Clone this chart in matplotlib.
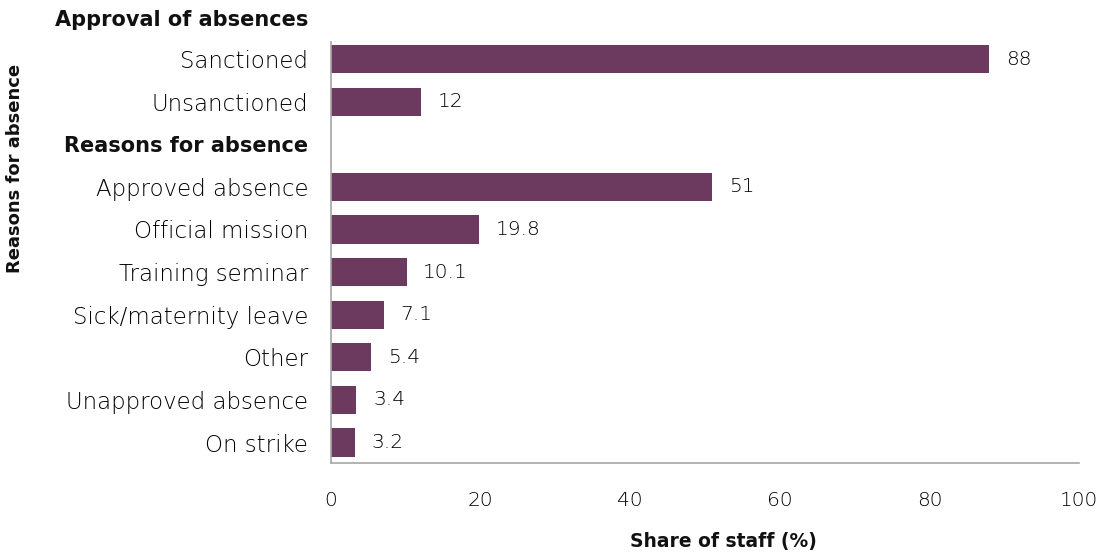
import matplotlib.pyplot as plt
import numpy as np

categories = ["Sanctioned", "Unsanctioned", "Reasons for absence",
              "Approved absence", "Official mission", "Training seminar",
              "Sick/maternity leave", "Other", "Unapproved absence", "On strike"]
values = [88, 12, None, 51, 19.8, 10.1, 7.1, 5.4, 3.4, 3.2]
labels = ["88", "12", "", "51", "19.8", "10.1", "7.1", "5.4", "3.4", "3.2"]
headers = ["Approval of absences", "Reasons for absence"]

plt.rcParams['font.family'] = ['DejaVu Sans']
bar_color = "#6B3A5E"
txt = "#000000"
dark = "#111111"
fs_cat = 16.5
fs_num = 14.5
fs_head = 15

fig = plt.figure(figsize=(11.02, 5.52), dpi=100)
ax = fig.add_axes([331 / 1102, 1 - 463 / 552, 748 / 1102, 421 / 552])

y = np.arange(len(categories))
for i, (v, lab) in enumerate(zip(values, labels)):
    if v is None:
        continue
    ax.barh(i, v, height=0.66, color=bar_color)
    ax.annotate(lab, (v, i), xytext=(12, 0), textcoords="offset points",
                va="center", ha="left", fontsize=fs_num, color=txt,
                fontweight="light")

ax.set_xlim(0, 100)
ax.set_ylim(9.48, -0.4)
ax.set_xticks(np.arange(0, 101, 20))
ax.set_yticks(y)
ax.set_yticklabels(categories, fontweight="light")
ax.set_xticklabels([str(t) for t in range(0, 101, 20)], fontweight="light")
ax.tick_params(axis="y", length=0, pad=16.5, labelsize=fs_cat, labelcolor=txt)
ax.tick_params(axis="x", length=0, pad=20, labelsize=fs_num, labelcolor=txt)
for t in ax.get_yticklabels():
    if t.get_text() in headers:
        t.set_fontweight("bold")
        t.set_fontsize(fs_head)
        t.set_color(dark)

for s in ["top", "right"]:
    ax.spines[s].set_visible(False)
for s in ["left", "bottom"]:
    ax.spines[s].set_color("#a6a6a6")
    ax.spines[s].set_linewidth(1.2)

# group header sitting above the first row
ax.annotate(headers[0], xy=(0, -0.92), xycoords=ax.get_yaxis_transform(),
            xytext=(-16.5, 0), textcoords="offset points", ha="right", va="center",
            fontsize=fs_head, fontweight="bold", color=dark, annotation_clip=False)

fig.text(723 / 1102, 1 - 541 / 552, "Share of staff (%)", ha="center", va="center",
         fontsize=13.5, fontweight="bold", color=dark)
fig.text(15 / 1102, 1 - 168 / 552, "Reasons for absence", ha="center", va="center",
         rotation=90, fontsize=13, fontweight="bold", color=dark)

fig.savefig("out.png", dpi=100)
